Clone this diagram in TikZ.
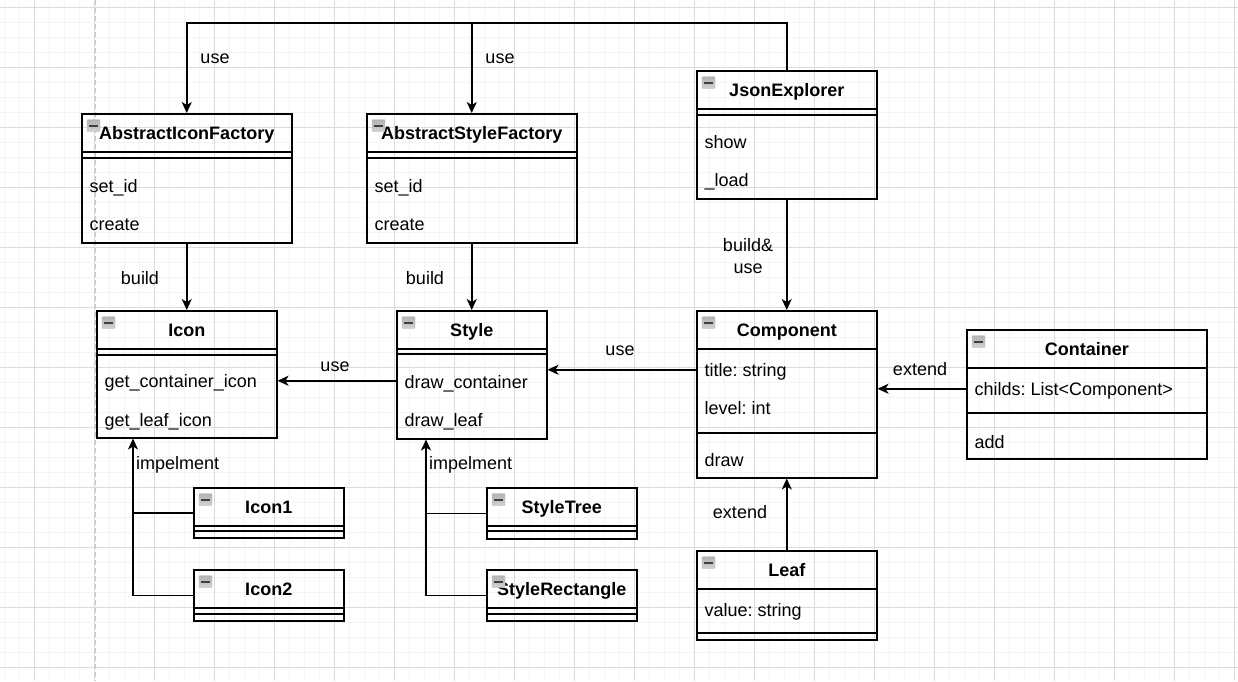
\documentclass[tikz,border=0pt]{standalone}
\usepackage{fontspec}
\setmainfont{Liberation Sans}
\frenchspacing
\usetikzlibrary{arrows.meta}
\tikzset{
  minorgrid/.style={gray!9, line width=1pt},
  majorgrid/.style={gray!28, line width=1pt},
  classbox/.style={draw, line width=1.5pt, inner sep=0, anchor=north west},
  boxline/.style={line width=1.5pt},
  minusicon/.style={draw=gray!55, top color=gray!60, bottom color=gray!35, rounded corners=1pt, minimum width=13pt, minimum height=12pt, inner sep=0},
  titletext/.style={font=\bfseries\fontsize{18}{21.6}\selectfont, inner sep=0, text height=13pt, text depth=0pt},
  rowtext/.style={font=\fontsize{18}{21.6}\selectfont, inner sep=0, anchor=west, text height=13pt, text depth=0pt},
  lbl/.style={font=\fontsize{18}{21.6}\selectfont, inner sep=0, text height=13pt, text depth=0pt},
  conn/.style={line width=1.5pt},
  arr/.style={conn, -{Stealth[length=11pt, width=10pt, inset=3pt]}}
}

\begin{document}
\begin{tikzpicture}[x=1pt, y=-1pt]
    % Background and grid
    \useasboundingbox (0,0) rectangle (1238,681);
    \fill[white] (0,0) rectangle (1238,681);
    \foreach \x in {4,19,...,1238} {
        \draw[minorgrid] (\x,0) -- (\x,681);
    }
    \foreach \y in {7,22,...,681} {
        \draw[minorgrid] (0,\y) -- (1238,\y);
    }
    \foreach \x in {34,94,...,1238} {
        \draw[majorgrid] (\x,0) -- (\x,681);
    }
    \foreach \y in {7,67,...,681} {
        \draw[majorgrid] (0,\y) -- (1238,\y);
    }
    \draw[gray!45, line width=1pt, dash pattern=on 5pt off 3pt] (95.5,0) -- (95.5,681);

    % Class boxes
    \foreach \cname/\cx/\cy/\cw/\ch/\ctitle in {
        aif/81/113/210/129/AbstractIconFactory,
        asf/366/113/210/129/AbstractStyleFactory,
        json/696/70/180/128/JsonExplorer,
        icon/96/310/180/127/Icon,
        style/396/310/150/128/Style,
        comp/696/310/180/167/Component,
        cont/966/329/240/129/Container,
        leaf/696/550/180/89/Leaf,
        icon1/193/487/150/50/Icon1,
        icon2/193/569/150/51/Icon2,
        stree/486/487/150/51/StyleTree,
        srect/486/569/150/51/StyleRectangle} {
        \node[classbox, minimum width=\cw pt, minimum height=\ch pt] (\cname) at (\cx,\cy) {};
        \draw[boxline] ([yshift=-39pt]\cname.north west) -- ([yshift=-39pt]\cname.north east);
        \node[titletext] (\cname-title) at ([yshift=-20pt]\cname.north) {\ctitle};
        \node[minusicon] (\cname-icon) at ([xshift=12.5pt, yshift=-12.5pt]\cname.north west) {};
        \draw[line width=2pt, black!75] ([xshift=2.5pt]\cname-icon.west) -- ([xshift=-2.5pt]\cname-icon.east);
    }

    % Section separators
    \foreach \cname/\dy in {aif/45, asf/45, json/45, icon/45, style/44, comp/123,
        cont/84, leaf/83, icon1/44, icon2/45, stree/44, srect/45} {
        \draw[boxline] ([yshift=-\dy pt]\cname.north west) -- ([yshift=-\dy pt]\cname.north east);
    }

    % Attributes and methods
    \foreach \cname/\dy/\txt [count=\i] in {
        aif/72.5/set\_id, aif/111/create,
        asf/72.5/set\_id, asf/111/create,
        json/71.5/show, json/109.5/\_load,
        icon/71/get\_container\_icon, icon/110/get\_leaf\_icon,
        style/71.5/draw\_container, style/109.5/draw\_leaf,
        comp/60/title: string, comp/98/level: int, comp/150/draw,
        cont/60/childs: List<Component>, cont/112.5/add,
        leaf/60/value: string} {
        \node[rowtext] (row\i) at ([xshift=8.5pt, yshift=-\dy pt]\cname.north west) {\txt};
    }

    % Connectors
    \coordinate (topline) at (0,23);
    \draw[arr] (json.north) |- (topline -| aif.north) -- (aif.north);
    \draw[arr] (topline -| asf.north) -- (asf.north);
    \draw[arr] (aif.south) -- (icon.north);
    \draw[arr] (asf.south) -- (style.north);
    \draw[arr] (json.south) -- (comp.north);
    \draw[arr] ([yshift=24.5pt]comp.west) -- ([yshift=24.5pt]comp.west -| style.east);
    \draw[arr] ([yshift=-6pt]style.west) -- ([yshift=-6pt]style.west -| icon.east);
    \draw[arr] ([yshift=5.5pt]cont.west) -- ([yshift=5.5pt]cont.west -| comp.east);
    \draw[arr] (leaf.north) -- (comp.south);

    % Implementations
    \coordinate (iconimpl) at ([xshift=37pt]icon.south west);
    \coordinate (styleimpl) at ([xshift=30pt]style.south west);
    \draw[arr] (icon2.west) -| (iconimpl);
    \draw[conn] (icon1.west) -- (icon1.west -| iconimpl);
    \draw[arr] (srect.west) -| (styleimpl);
    \draw[conn] (stree.west) -- (stree.west -| styleimpl);

    % Labels
    \node[lbl] (use1) at (215,57) {use};
    \node[lbl] (use2) at (500,57) {use};
    \node[lbl] (build1) at (140,278) {build};
    \node[lbl] (build2) at (425,278) {build};
    \node[font=\fontsize{18}{21.6}\selectfont, align=center, inner sep=0] (builduse) at (748,256) {build\&\\use};
    \node[lbl] (use3) at (620,349) {use};
    \node[lbl] (use4) at (335,365) {use};
    \node[lbl] (extend1) at (920,369) {extend};
    \node[lbl] (extend2) at (740,512) {extend};
    \node[lbl, anchor=west] (impl1) at (136,463) {impelment};
    \node[lbl, anchor=west] (impl2) at (429,463) {impelment};
\end{tikzpicture}
\end{document}
